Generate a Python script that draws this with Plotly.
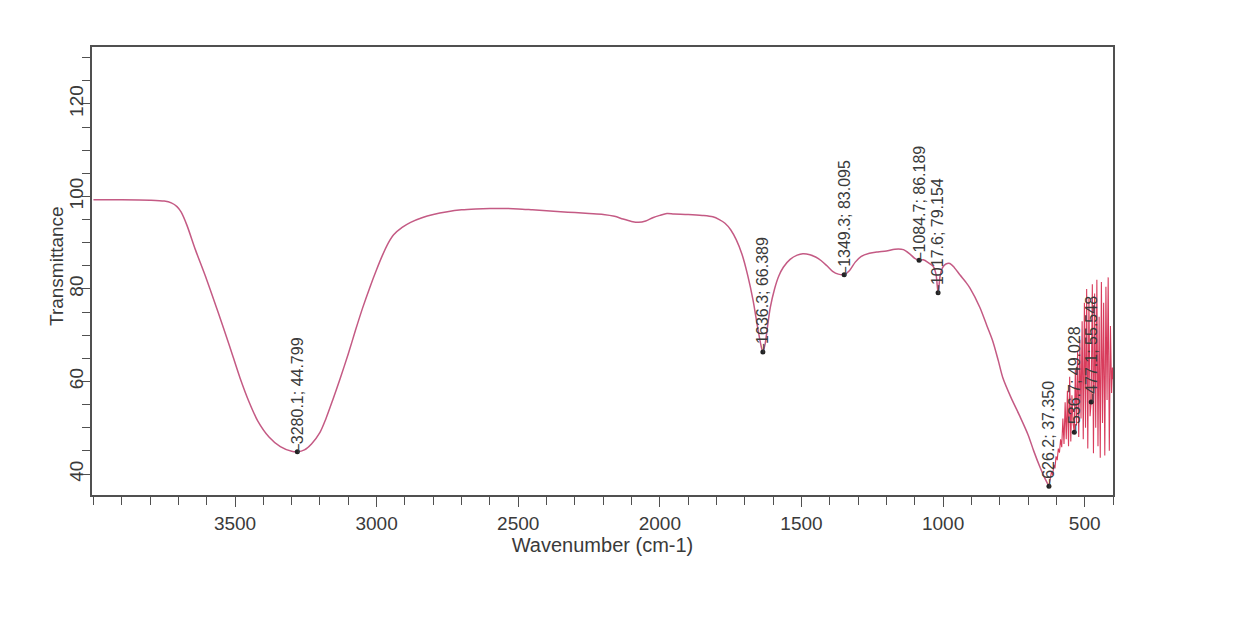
import plotly.graph_objects as go

# ---- data ----
wn_main = [4000, 3900, 3800, 3750, 3725, 3705, 3690, 3670, 3640, 3600,
           3560, 3520, 3482, 3450, 3420, 3380, 3340, 3300, 3280.1, 3255,
           3230, 3200, 3180, 3155, 3129, 3100, 3075, 3050, 3023, 3000,
           2980, 2960, 2940, 2910, 2880, 2840, 2800, 2750, 2700, 2650,
           2600, 2550, 2500, 2450, 2400, 2350, 2300, 2250, 2200, 2160,
           2130, 2100, 2075, 2050, 2025, 2000, 1975, 1950, 1900, 1850,
           1813, 1790, 1770, 1750, 1730, 1710, 1690, 1671, 1655, 1643,
           1636.3, 1628, 1620, 1610, 1595, 1580, 1564, 1540, 1515, 1495,
           1470, 1450, 1430, 1410, 1390, 1370, 1349.3, 1330, 1310, 1290,
           1260, 1230, 1200, 1170, 1140, 1118, 1100, 1084.7, 1070, 1050,
           1035, 1025, 1017.6, 1010, 1000, 990, 976, 960, 940, 920,
           905, 870, 845, 825, 805, 789, 760, 729, 700, 680,
           658, 640, 630, 626.2]
t_main = [99.3, 99.3, 99.2, 99.0, 98.6, 97.8, 96.6, 93.8, 88.5, 82.0,
          75.0, 67.8, 60.7, 55.5, 51.5, 48.0, 45.9, 44.9, 44.8, 45.2,
          46.5, 49.0, 51.8, 56.0, 60.6, 66.0, 71.0, 75.8, 80.5, 84.2,
          87.2, 89.8, 91.7, 93.3, 94.4, 95.4, 96.1, 96.7, 97.1, 97.3,
          97.4, 97.4, 97.3, 97.1, 96.9, 96.7, 96.5, 96.3, 96.1, 95.7,
          95.1, 94.6, 94.4, 94.7, 95.4, 95.9, 96.3, 96.2, 96.1, 95.9,
          95.6, 95.0, 94.2, 92.8, 90.6, 87.5, 83.0, 77.6, 71.8, 67.8,
          66.4, 68.2, 71.8, 76.0, 80.0, 82.8, 84.7, 86.4, 87.3, 87.6,
          87.4, 86.9, 86.1, 85.0, 83.8, 83.2, 83.1, 84.0, 85.8, 87.0,
          87.7, 88.0, 88.2, 88.6, 88.5, 87.6, 86.6, 86.2, 86.3, 85.6,
          84.9, 83.2, 79.2, 83.0, 84.8, 85.4, 85.5, 84.6, 83.0, 81.5,
          80.2, 76.0, 72.0, 68.8, 64.5, 60.8, 56.5, 52.5, 48.5, 45.0,
          41.5, 39.0, 37.8, 37.35]

wn_noise = [626.2, 621, 617, 613, 609, 605, 601, 597, 593, 589,
            585, 581, 577, 573, 569, 565, 561, 557, 553, 549,
            545, 541, 536.7, 533, 529, 525, 521, 517, 513, 509,
            505, 501, 497, 493, 489, 485, 481, 477.1, 473, 469,
            465, 461, 457, 453, 449, 445, 441, 437, 433, 429,
            425, 421, 417, 413, 409, 405, 402, 400]
t_noise = [37.35, 38.8, 40.5, 39.8, 42.0, 41.2, 43.8, 43.0, 45.5, 44.6,
           47.5, 45.8, 52.0, 46.5, 55.5, 47.5, 58.0, 46.0, 61.0, 47.0,
           57.0, 51.0, 49.0, 62.5, 50.5, 66.5, 48.0, 69.0, 52.0, 73.0,
           47.5, 77.0, 50.0, 80.0, 45.5, 78.0, 52.5, 55.5, 81.0, 44.5,
           79.0, 50.0, 82.0, 46.0, 74.0, 43.5, 81.5, 51.0, 77.0, 44.0,
           80.5, 56.0, 82.5, 45.0, 72.0, 57.5, 63.0, 60.5]

peak_wn = [3280.1, 1636.3, 1349.3, 1084.7, 1017.6, 626.2, 536.7, 477.1]
peak_t = [44.799, 66.389, 83.095, 86.189, 79.154, 37.350, 49.028, 55.548]

x_ticks = [3500, 3000, 2500, 2000, 1500, 1000, 500]
y_ticks = [40, 60, 80, 100, 120]

FONT = "Liberation Sans, Arial, sans-serif"
INK = "#3a3a3a"

fig = go.Figure()
fig.add_trace(go.Scatter(x=wn_main, y=t_main, mode="lines",
                         line=dict(color="#c45a84", width=1.5, shape="spline", smoothing=0.8),
                         hoverinfo="skip", showlegend=False))
fig.add_trace(go.Scatter(x=wn_noise, y=t_noise, mode="lines",
                         line=dict(color="#d83c5c", width=1.1),
                         hoverinfo="skip", showlegend=False))
fig.add_trace(go.Scatter(x=peak_wn, y=peak_t, mode="markers",
                         marker=dict(color="#222222", size=5),
                         hoverinfo="skip", showlegend=False))

for w, t in zip(peak_wn, peak_t):
    fig.add_annotation(x=w, y=t, text=f"–{w:.1f}; {t:.3f}", showarrow=False,
                       textangle=-90, xanchor="center", yanchor="bottom", yshift=-3,
                       font=dict(family=FONT, size=16, color=INK))

# y-axis title placed as text next to the tick labels
fig.add_annotation(xref="paper", yref="paper", x=(56 - 92) / 1021, y=(495 - 266) / 448,
                   text="Transmittance", showarrow=False, textangle=-90,
                   xanchor="center", yanchor="middle",
                   font=dict(family=FONT, size=19, color=INK))

axis_common = dict(showline=True, linecolor="#505050", linewidth=1.5, mirror=True,
                   showgrid=False, zeroline=False, ticks="outside", tickcolor="#505050",
                   tickfont=dict(family=FONT, size=19, color=INK))

fig.update_xaxes(range=[4005, 400], tickvals=x_ticks, ticklen=10, tickwidth=1.3,
                 minor=dict(dtick=100, tick0=0, ticks="outside", ticklen=8, tickcolor="#505050",
                            tickwidth=1.3),
                 title=dict(text="Wavenumber (cm-1)", standoff=4,
                            font=dict(family=FONT, size=20, color=INK)),
                 **axis_common)
fig.update_yaxes(range=[35.46, 132.3], tickvals=y_ticks, tickangle=-90, ticklen=8, tickwidth=1.3,
                 ticklabelstandoff=-8,
                 minor=dict(dtick=5, tick0=0, ticks="outside", ticklen=8, tickcolor="#505050",
                            tickwidth=1.3),
                 **axis_common)

fig.update_layout(width=1251, height=623, paper_bgcolor="white", plot_bgcolor="white",
                  margin=dict(l=92, r=138, t=47, b=128, autoexpand=False),
                  font=dict(family=FONT))

fig.write_html("out.html")
